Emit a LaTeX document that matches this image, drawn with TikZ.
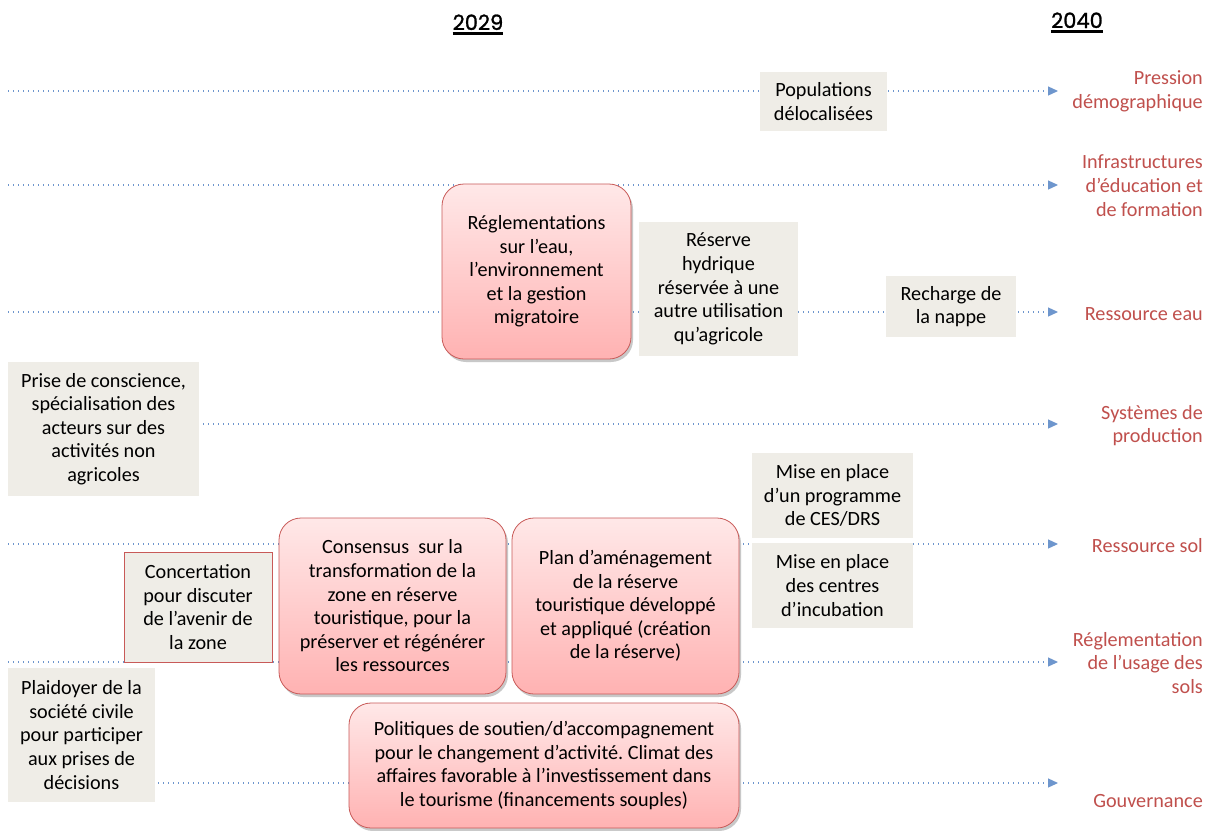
\documentclass[tikz,border=0pt]{standalone}
\usepackage{fontspec}
\setmainfont{Carlito}
\newfontfamily\yearfont[FakeBold=1.2]{Poppins}
\usetikzlibrary{arrows.meta,shadows}
\frenchspacing
\definecolor{flowblue}{RGB}{110,150,205}
\definecolor{labred}{RGB}{192,80,77}
\definecolor{graybox}{RGB}{239,237,231}
\definecolor{pinktop}{RGB}{255,232,232}
\definecolor{pinkbot}{RGB}{255,178,178}
\definecolor{redline}{RGB}{200,90,88}
\begin{document}
\begin{tikzpicture}[x=1pt,y=-1pt,
  every node/.style={font=\fontsize{20.2}{23.6}\selectfont, align=center, inner sep=0pt},
  flow/.style={draw=flowblue, line width=1.2pt, dash pattern=on 1.3pt off 3.7pt, -{Triangle[length=10pt,width=9pt]}},
  lab/.style={text=labred, anchor=east, align=right},
  plain/.style={fill=graybox},
  framed/.style={fill=graybox, draw=redline, line width=0.8pt},
  soft/.style={rounded corners=22pt, draw=redline, line width=0.8pt, top color=pinktop, bottom color=pinkbot,
    drop shadow={shadow xshift=2pt, shadow yshift=-3pt, opacity=0.3, fill=black!70}},
  yr/.style={font=\yearfont\fontsize{21}{26}\selectfont, inner sep=0pt},
  uline/.style={line width=2.4pt}
]
\useasboundingbox (0,0) rectangle (1212,830);
\fill[white] (0,0) rectangle (1212,830);

% years
\node[yr, anchor=base] (y29) at (478,30) {2029};
\node[yr, anchor=base] (y40) at (1077,28) {2040};
\draw[uline] ([yshift=-3.5pt]y29.base west) -- ([yshift=-3.5pt]y29.base east);
\draw[uline] ([yshift=-3.5pt]y40.base west) -- ([yshift=-3.5pt]y40.base east);

% flow lines
\foreach \i/\y in {1/91,2/185,3/312,4/424,5/544,6/662,7/783}{
  \coordinate (s\i) at (8,\y);
  \coordinate (e\i) at (1058,\y);
}
\foreach \i in {1,...,7}{ \draw[flow] (s\i) -- (e\i); }

% right labels
\node[lab] (l1) at (1203,91.5) {Pression\\démographique};
\node[lab] (l2) at (1203,185.7) {Infrastructures\\d’éducation et\\de formation};
\node[lab] (l3) at (1203,314) {Ressource eau};
\node[lab] (l4) at (1203,425.5) {Systèmes de\\production};
\node[lab] (l5) at (1203,546) {Ressource sol};
\node[lab] (l6) at (1203,663) {Réglementation\\de l’usage des\\sols};
\node[lab] (l7) at (1203,801) {Gouvernance};

% gray boxes
\node[plain, minimum width=127pt, minimum height=59pt] (pop) at (823.5,101.5) {Populations\\délocalisées};
\node[plain, minimum width=159pt, minimum height=134pt] (reshyd) at (718.5,289) {Réserve\\hydrique\\réservée à une\\autre utilisation\\qu’agricole};
\node[plain, minimum width=130pt, minimum height=61pt] (recharge) at (951,306.5) {Recharge de\\la nappe};
\node[plain, minimum width=191pt, minimum height=134pt] (prise) at (103.5,429) {Prise de conscience,\\spécialisation des\\acteurs sur des\\activités non\\agricoles};
\node[plain, minimum width=161pt, minimum height=85pt] (ces) at (832.5,495.5) {Mise en place\\d’un programme\\de CES/DRS};
\node[plain, minimum width=161pt, minimum height=85pt] (incub) at (832.5,585.5) {Mise en place\\des centres\\d’incubation};
\node[framed, minimum width=148pt, minimum height=110pt] (concert) at (198,607) {Concertation\\pour discuter\\de l’avenir de\\la zone};
\node[plain, minimum width=147pt, minimum height=134pt] (plaid) at (81.5,735) {Plaidoyer de la\\société civile\\pour participer\\aux prises de\\décisions};

% rounded pink boxes
\node[soft, minimum width=189pt, minimum height=175pt] (regl) at (536.5,271.5) {Réglementations\\sur l’eau,\\l’environnement\\et la gestion\\migratoire};
\node[soft, minimum width=227pt, minimum height=176pt] (consensus) at (392.5,606) {Consensus\ \ sur la\\transformation de la\\zone en réserve\\touristique, pour la\\préserver et régénérer\\les ressources};
\node[soft, minimum width=227pt, minimum height=176pt] (plan) at (625.5,606) {Plan d’aménagement\\de la réserve\\touristique développé\\et appliqué (création\\de la réserve)};
\node[soft, minimum width=390pt, minimum height=125pt] (polit) at (544,765.5) {Politiques de soutien/d’accompagnement\\pour le changement d’activité. Climat des\\affaires favorable à l’investissement dans\\le tourisme (financements souples)};
\end{tikzpicture}
\end{document}
